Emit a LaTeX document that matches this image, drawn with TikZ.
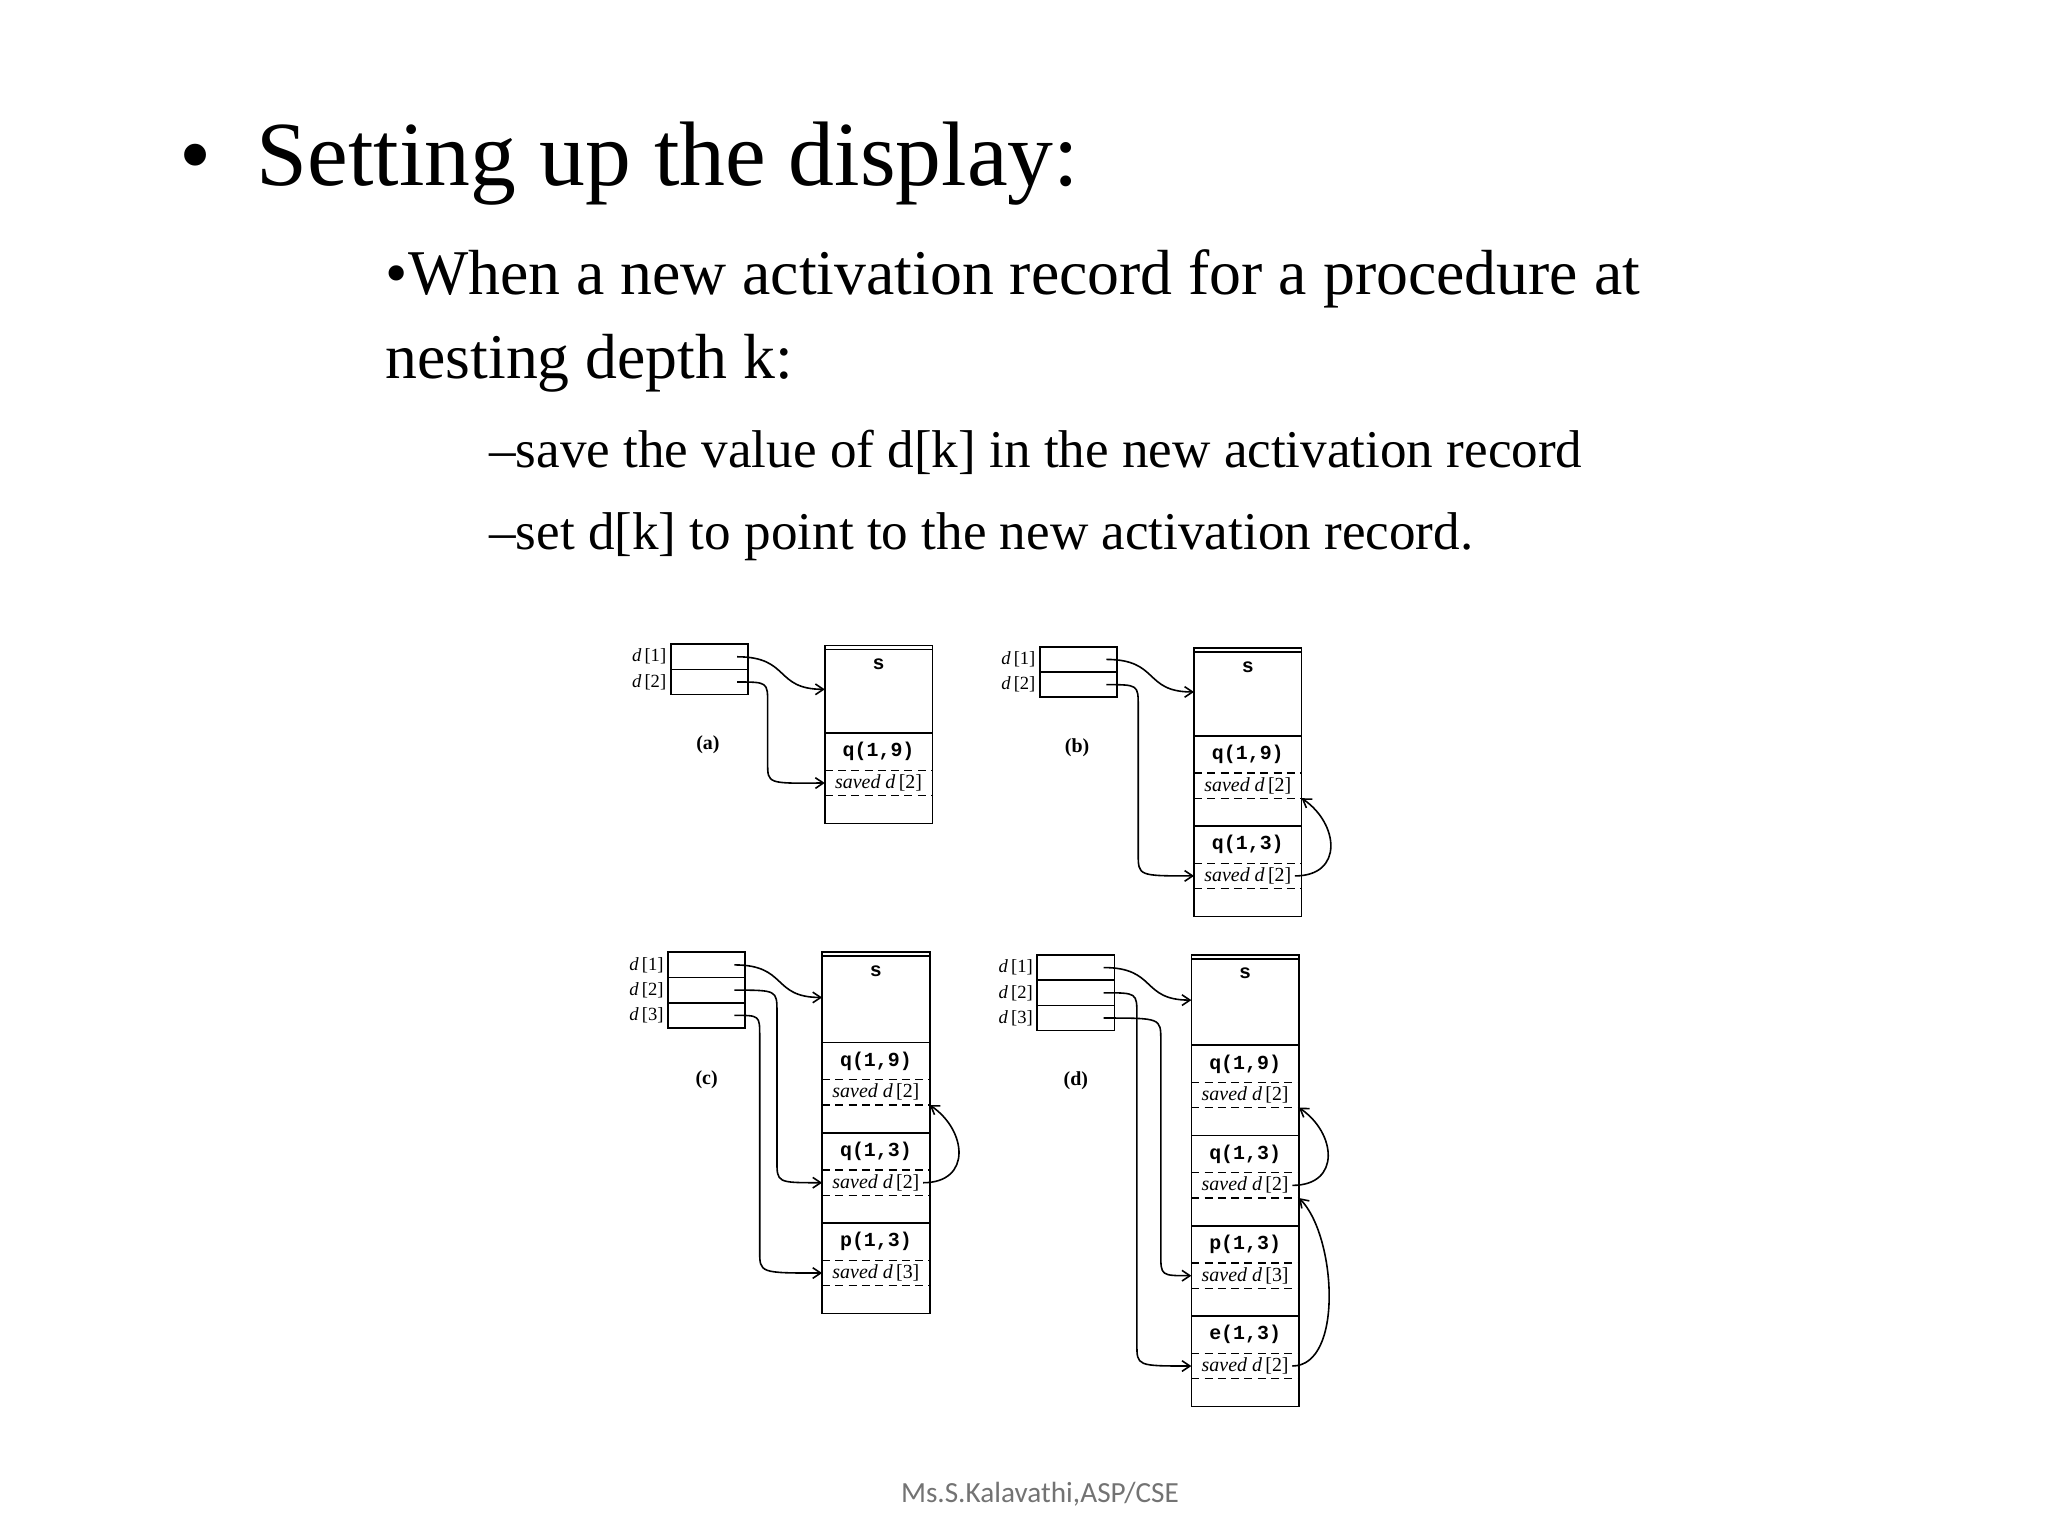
\documentclass[tikz,border=0pt]{standalone}
\usepackage{fontspec}
\setmainfont{Liberation Serif}
\newfontfamily\monof{Liberation Mono}
\newfontfamily\footf{Carlito}
\usetikzlibrary{arrows.meta}
\tikzset{
 box/.style={line width=0.6pt},
 dsh/.style={dashed,line width=0.5pt,dash pattern=on 3pt off 2pt},
 arr/.style={line width=0.6pt,-{Straight Barb[length=3pt,width=4pt]}},
 mono/.style={font=\monof\bfseries\fontsize{7.5}{8}\selectfont,inner sep=0},
 sv/.style={font=\fontsize{7.5}{8}\selectfont,inner sep=0},
 dl/.style={font=\fontsize{7}{8}\selectfont,inner sep=0,anchor=east},
 pl/.style={font=\bfseries\fontsize{7.5}{8}\selectfont,inner sep=0},
 big/.style={font=\fontsize{34.5}{40}\selectfont,anchor=base west,inner sep=0},
 mid/.style={font=\fontsize{24}{28}\selectfont,anchor=base west,inner sep=0},
 sml/.style={font=\fontsize{20}{24}\selectfont,anchor=base west,inner sep=0},
}
% name, x, ytop, proc label, saved label
\newcommand\arframe[5]{%
 \draw[box] (#2,#3) rectangle (#2+81,#3+68);
 \node[mono] at (#2+40.5,#3+14) {#4};
 \draw[dsh] (#2,#3+28) -- (#2+81,#3+28);
 \draw[dsh] (#2,#3+47) -- (#2+81,#3+47);
 \node[sv] (#1) at (#2+40.5,#3+37.5) {\textit{saved d}\,[#5]};
 \coordinate (#1-l) at (#2,#3+37.5);
 \coordinate (#1-r) at (#2+76,#3+37.5);
 \coordinate (#1-b) at (#2+81,#3+47);
}
% name, x, ytop, sbottom
\newcommand\sframe[4]{%
 \draw[box] (#2,#3) rectangle (#2+81,#4);
 \draw[box] (#2,#3+3) -- (#2+81,#3+3);
 \node[mono] at (#2+40.5,#3+14) {s};
 \coordinate (#1-l) at (#2,{(#3+#4)/2});
}
% name, x, ytop, rows
\newcommand\dbox[4]{%
 \foreach \i in {1,...,#4}{
  \draw[box] (#2,{#3+(\i-1)*19}) rectangle (#2+58,{#3+\i*19});
  \node[dl] at (#2-3,{#3+(\i-0.5)*19}) {\textit{d}\,[\i]};
  \coordinate (#1\i) at (#2+50,{#3+(\i-0.5)*19});
 }
}
% start, vertical x, target
\newcommand\dptr[3]{%
 \draw[arr] (#1) .. controls (#2,{\ysof{#1}}) .. ({#2},{\ysof{#1}+15});
}
\begin{document}
\begin{tikzpicture}[x=0.5pt,y=-0.5pt]
\useasboundingbox (0,0) rectangle (1542,1156.5);
\fill[white] (0,0) rectangle (1542,1156.5);
% text
\node[big] (bul) at (135,140) {•};
\node[big] (t1) at (193,140) {Setting up the display:};
\node[mid] (t2) at (290,222) {•When a new activation record for a procedure at};
\node[mid] (t3) at (290,285) {nesting depth k:};
\node[sml] (t4) at (368,352) {–save the value of d[k] in the new activation record};
\node[sml] (t5) at (368,414) {–set d[k] to point to the new activation record.};
\node[font=\footf\fontsize{11}{13}\selectfont,text=black!55,anchor=base,inner sep=0] (ft) at (783,1131) {Ms.S.Kalavathi,ASP/CSE};

% ---------- (a)
\dbox{a}{505}{485}{2}
\sframe{as}{621}{486}{552}
\arframe{aq}{621}{552}{q(1,9)}{2}
\node[pl] (la) at (533,561) {(a)};
\draw[arr] (a1) .. controls (595,494.5) and (583,519) .. (as-l);
\draw[arr] (a2) .. controls (578,513.5) .. (578,530) -- (578,575) .. controls (578,590) .. (aq-l);

% ---------- (b)
\dbox{b}{783}{487}{2}
\sframe{bs}{899}{488}{554}
\arframe{bq1}{899}{554}{q(1,9)}{2}
\arframe{bq2}{899}{622}{q(1,3)}{2}
\node[pl] (lb) at (811,563) {(b)};
\draw[arr] (b1) .. controls (873,496.5) and (861,521) .. (bs-l);
\draw[arr] (b2) .. controls (857,515.5) .. (857,532) -- (857,643) .. controls (857,659.5) .. (bq2-l);
\draw[arr] (bq2-r) .. controls (1012,659.5) and (1008,620) .. (bq1-b);

% ---------- (c)
\dbox{c}{503}{717}{3}
\sframe{cs}{619}{717}{785}
\arframe{cq1}{619}{785}{q(1,9)}{2}
\arframe{cq2}{619}{853}{q(1,3)}{2}
\arframe{cp}{619}{921}{p(1,3)}{3}
\node[pl] (lc) at (532,813) {(c)};
\draw[arr] (c1) .. controls (593,726.5) and (581,751) .. (cs-l);
\draw[arr] (c2) .. controls (585,745.5) .. (585,762) -- (585,874) .. controls (585,890.5) .. (cq2-l);
\draw[arr] (c3) .. controls (572,764.5) .. (572,780) -- (572,942) .. controls (572,958.5) .. (cp-l);
\draw[arr] (cq2-r) .. controls (732,890.5) and (728,851) .. (cq1-b);

% ---------- (d)
\dbox{d}{781}{719}{3}
\sframe{ds}{897}{719}{787}
\arframe{dq1}{897}{787}{q(1,9)}{2}
\arframe{dq2}{897}{855}{q(1,3)}{2}
\arframe{dp}{897}{923}{p(1,3)}{3}
\arframe{de}{897}{991}{e(1,3)}{2}
\node[pl] (ld) at (810,814) {(d)};
\draw[arr] (d1) .. controls (871,728.5) and (859,753) .. (ds-l);
\draw[arr] (d2) .. controls (856,747.5) .. (856,764) -- (856,1012) .. controls (856,1028.5) .. (de-l);
\draw[arr] (d3) .. controls (874,766.5) .. (874,783) -- (874,944) .. controls (874,960.5) .. (dp-l);
\draw[arr] (dq2-r) .. controls (1010,892.5) and (1006,853) .. (dq1-b);
\draw[arr] (de-r) .. controls (1012,1028.5) and (1006,930) .. (dq2-b);
\end{tikzpicture}
\end{document}
